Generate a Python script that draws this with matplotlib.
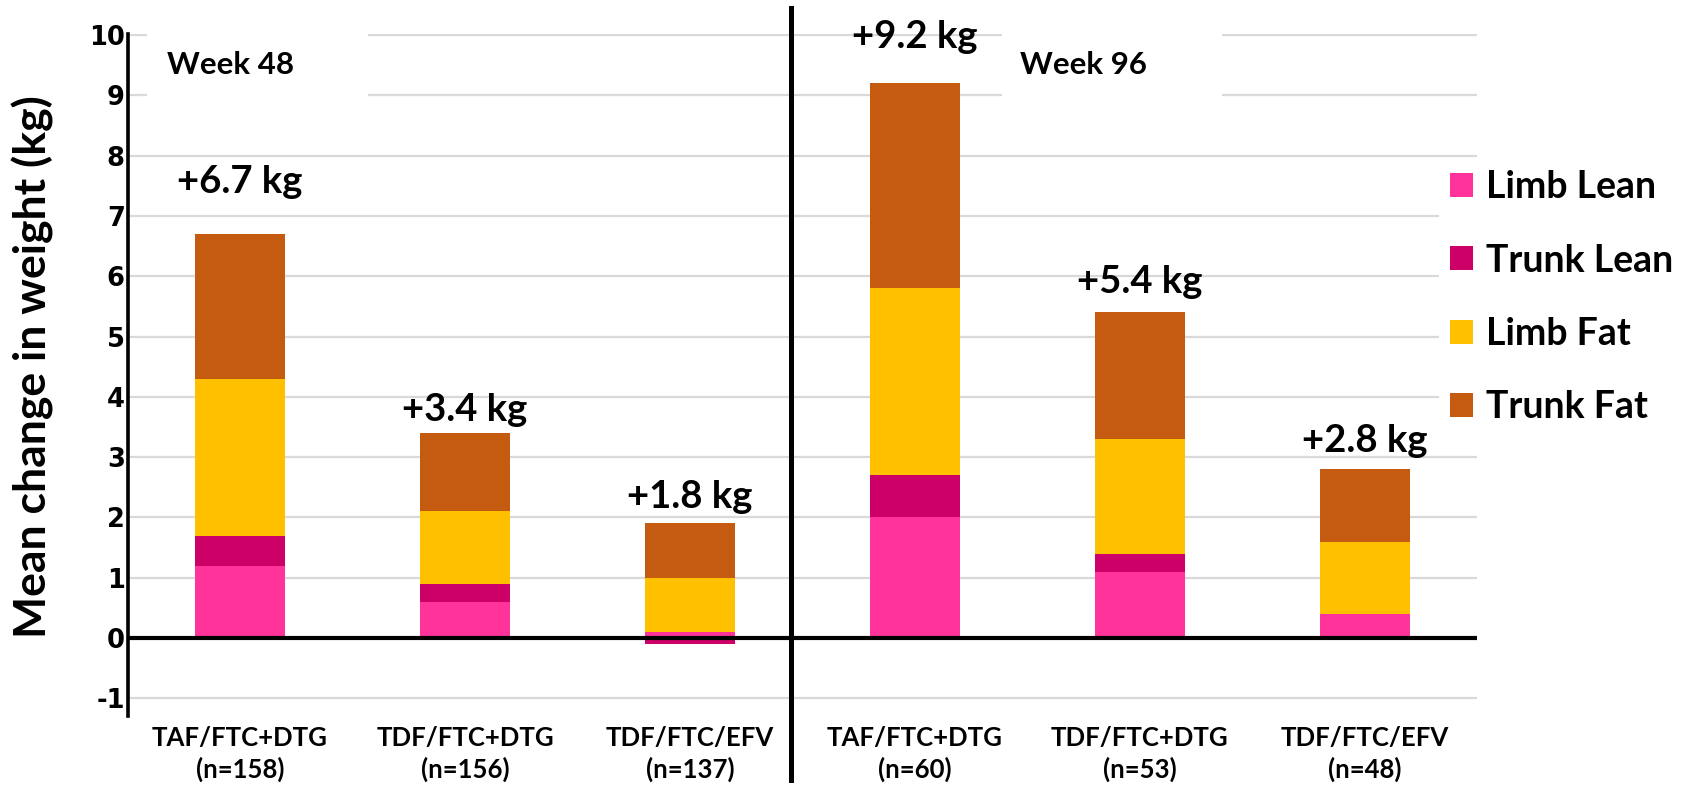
import matplotlib
matplotlib.use("Agg")
import matplotlib.pyplot as plt
import matplotlib.transforms as mtransforms
from matplotlib.lines import Line2D
from matplotlib.patches import Rectangle
import numpy as np

# Regimens (Week 48 group, then Week 96 group)
categories = [
    "TAF/FTC+DTG\n(n=158)", "TDF/FTC+DTG\n(n=156)", "TDF/FTC/EFV\n(n=137)",
    "TAF/FTC+DTG\n(n=60)", "TDF/FTC+DTG\n(n=53)", "TDF/FTC/EFV\n(n=48)",
]

# Mean change in weight (kg) by body compartment
limb_lean = [1.2, 0.6, 0.1, 2.0, 1.1, 0.4]
trunk_lean = [0.5, 0.3, -0.1, 0.7, 0.3, -0.03]
limb_fat = [2.6, 1.2, 0.9, 3.1, 1.9, 1.2]
trunk_fat = [2.4, 1.3, 0.9, 3.4, 2.1, 1.2]

series_names = ["Limb Lean", "Trunk Lean", "Limb Fat", "Trunk Fat"]
series_values = [limb_lean, trunk_lean, limb_fat, trunk_fat]
series_colors = ["#FF3399", "#CC0066", "#FFC000", "#C55A11"]

y_ticks = list(range(-1, 11))
period_labels = ["Week 48", "Week 96"]

# Height of each total label's baseline above its bar
label_gap = [0.68, 0.2, 0.25, 0.58, 0.33, 0.29]

LABEL_FONT = ["Lato", "DejaVu Sans"]

fig = plt.figure(figsize=(17.01, 7.86), dpi=100)
ax = fig.add_axes([0.075, 0.0885, 0.7935, 0.8684])

x = np.arange(len(categories))
pos_bottom = np.zeros(len(categories))
neg_bottom = np.zeros(len(categories))
handles = []
for name, vals, color in zip(series_names, series_values, series_colors):
    vals = np.asarray(vals, dtype=float)
    bottom = np.where(vals >= 0, pos_bottom, neg_bottom)
    bars = ax.bar(x, vals, width=0.4, bottom=bottom, color=color,
                  edgecolor="none", zorder=2, label=name)
    handles.append(bars)
    pos_bottom += np.where(vals > 0, vals, 0)
    neg_bottom += np.where(vals < 0, vals, 0)

totals = np.sum(np.array(series_values, dtype=float), axis=0)
for xi, top, tot, gap in zip(x, pos_bottom, totals, label_gap):
    ax.text(xi, top + gap, f"+{tot:.1f} kg", ha="center", va="baseline",
            fontsize=27.5, fontweight="bold", family=LABEL_FONT, zorder=5)

ax.set_xlim(-0.5, len(categories) - 0.5)
ax.set_ylim(-1.3, 10.02)
ax.set_yticks(y_ticks)
ax.set_yticklabels([str(t) for t in y_ticks], fontsize=18.5, fontweight="bold",
                   family="DejaVu Sans")
ax.set_xticks(x)
ax.set_xticklabels(categories, fontsize=18.5, fontweight="bold",
                   family=LABEL_FONT, linespacing=1.3)
ax.tick_params(axis="both", length=0)
ax.tick_params(axis="y", pad=2)
ax.tick_params(axis="x", pad=7)

ax.yaxis.grid(True, color="#d9d9d9", linewidth=1.6, zorder=1.5)
ax.set_axisbelow("line")
for side in ["top", "right", "bottom"]:
    ax.spines[side].set_visible(False)
ax.spines["left"].set_linewidth(2.6)
ax.spines["left"].set_color("black")

# Zero baseline
ax.axhline(0, color="black", linewidth=3, zorder=3)

# Period headings on white patches
for x0, x1, tx, label in [(-0.413, 0.569, -0.324, period_labels[0]),
                          (3.387, 4.364, 3.467, period_labels[1])]:
    ax.add_patch(Rectangle((x0, 8.92), x1 - x0, 1.4, facecolor="white",
                           edgecolor="none", zorder=1.7))
    ax.text(tx, 9.36, label, ha="left", va="baseline", fontsize=22.5,
            fontweight="bold", family=LABEL_FONT, zorder=5)

# Divider between the two periods, running past the plot area
trans = mtransforms.blended_transform_factory(ax.transData, fig.transFigure)
fig.add_artist(Line2D([2.45, 2.45], [0.0076, 0.99], transform=trans,
                      color="black", linewidth=3.6))

fig.text(0.0195, 0.534, "Mean change in weight (kg)", rotation=90,
         ha="center", va="center", fontsize=32, fontweight="bold",
         family=LABEL_FONT)

leg = ax.legend(handles=handles, labels=series_names, loc="upper left",
                bbox_to_anchor=(1439 / 1701, 1 - 159 / 786),
                bbox_transform=fig.transFigure, borderaxespad=0,
                borderpad=0.3, frameon=True, facecolor="white",
                edgecolor="none", framealpha=1, fancybox=False,
                handlelength=0.61, handleheight=0.61, handletextpad=0.35,
                labelspacing=1.05,
                prop={"family": LABEL_FONT, "weight": "bold", "size": 27})

fig.savefig("out.png", dpi=100, facecolor="white")
